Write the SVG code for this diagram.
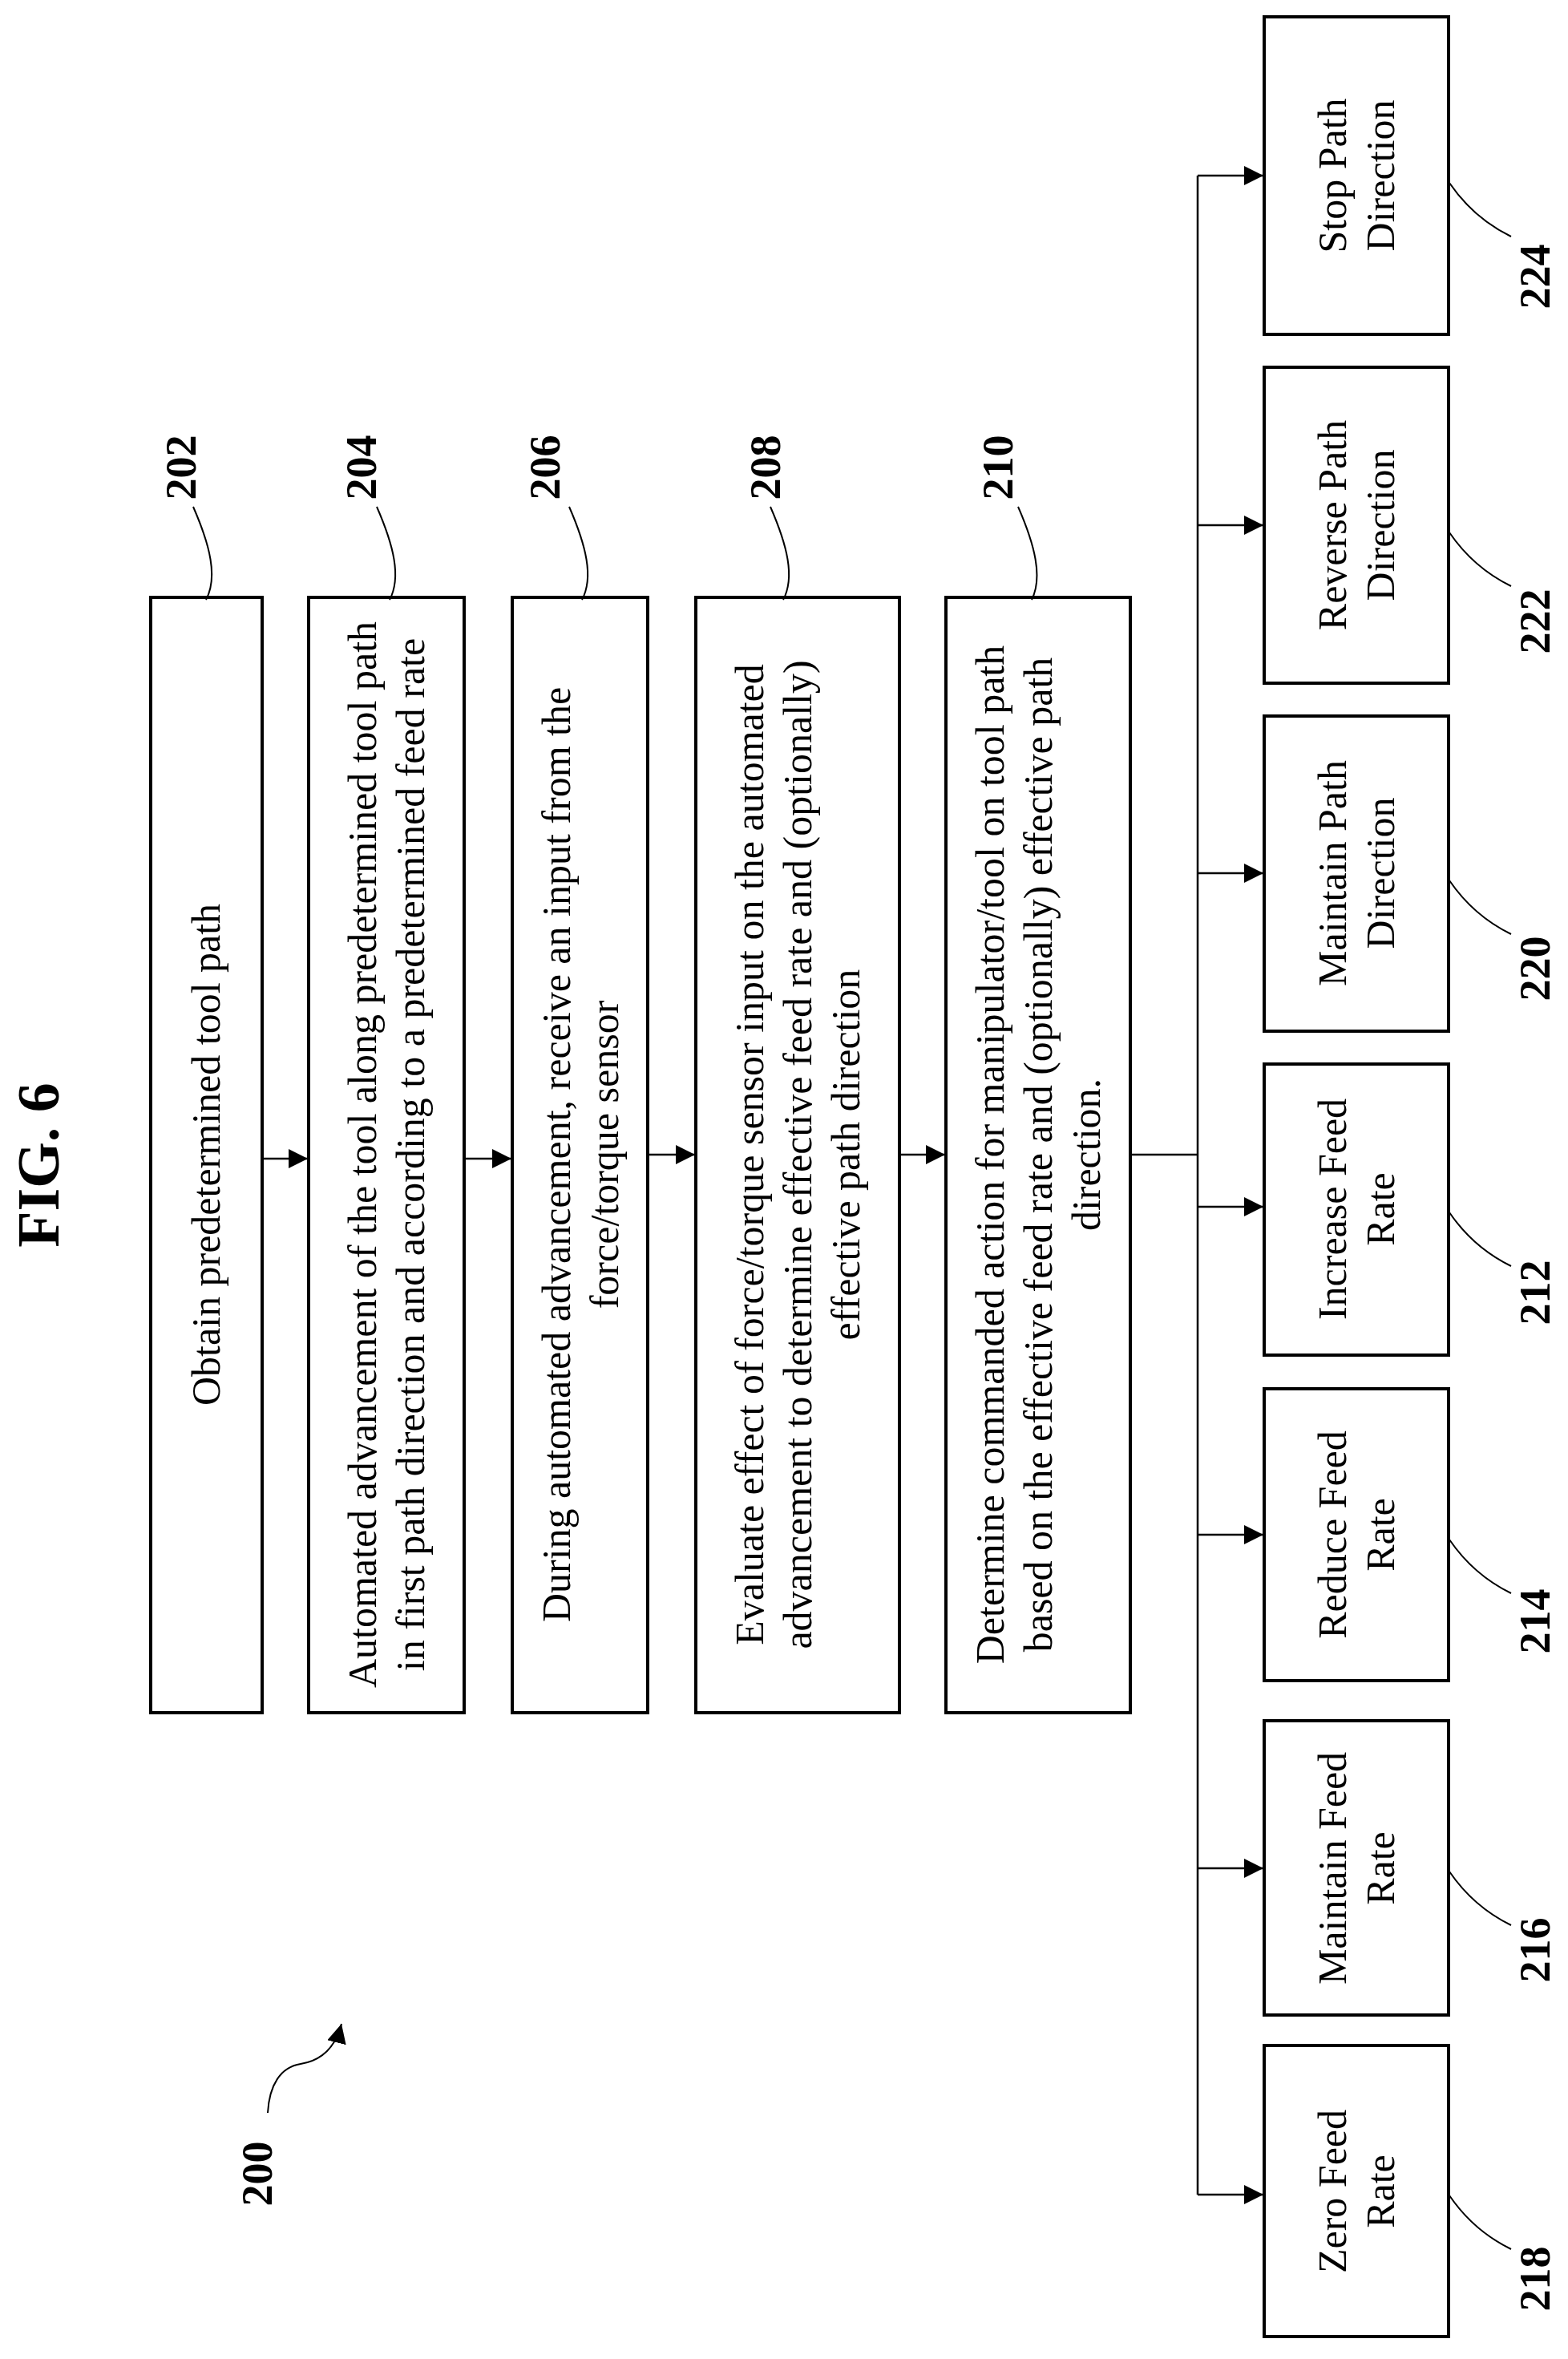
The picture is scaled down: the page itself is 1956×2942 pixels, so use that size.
<svg xmlns="http://www.w3.org/2000/svg" width="1956" height="2942" viewBox="0 0 1956 2942">
<style>
.box{fill:#fff;stroke:#000;stroke-width:4}
.t{font-family:"Liberation Serif","Times New Roman",serif;font-size:50px;text-anchor:middle;dominant-baseline:central;fill:#000}
.n{font-family:"Liberation Serif","Times New Roman",serif;font-size:54px;font-weight:bold;text-anchor:middle;dominant-baseline:central;fill:#000}
.c{fill:none;stroke:#000;stroke-width:2.5}
.l{fill:none;stroke:#000;stroke-width:2}
</style>
<defs>
<marker id="ah" markerUnits="userSpaceOnUse" markerWidth="24" markerHeight="24" refX="24" refY="12" orient="auto">
<path d="M0,0 L24,12 L0,24 Z" fill="#000"/>
</marker>
</defs>
<rect width="1956" height="2942" fill="#fff"/>
<text transform="translate(48,1453) rotate(-90)" style="font-family:'Liberation Serif',serif;font-size:74px;font-weight:bold;text-anchor:middle;dominant-baseline:central">FIG. 6</text>

<g id="n202"><rect class="box" x="188" y="745" width="139" height="1391"/>
<text class="t" transform="translate(257,1440) rotate(-90)">Obtain predetermined tool path</text>
<text class="n" transform="translate(226,583) rotate(-90)">202</text>
<path class="l" d="M241,632 C262,680 272,720 257,748"/></g>

<g id="n204"><rect class="box" x="385" y="745" width="194" height="1391"/>
<text class="t" transform="translate(482,1440) rotate(-90)"><tspan x="0" y="-30">Automated advancement of the tool along predetermined tool path</tspan><tspan x="0" y="30">in first path direction and according to a predetermined feed rate</tspan></text>
<text class="n" transform="translate(451,583) rotate(-90)">204</text>
<path class="l" d="M470,632 C491,680 501,720 486,748"/></g>

<g id="n206"><rect class="box" x="639" y="745" width="169" height="1391"/>
<text class="t" transform="translate(724,1440) rotate(-90)"><tspan x="0" y="-30">During automated advancement, receive an input from the</tspan><tspan x="0" y="30">force/torque sensor</tspan></text>
<text class="n" transform="translate(680,583) rotate(-90)">206</text>
<path class="l" d="M710,632 C731,680 741,720 726,748"/></g>

<g id="n208"><rect class="box" x="868" y="745" width="254" height="1391"/>
<text class="t" transform="translate(995,1440) rotate(-90)"><tspan x="0" y="-60">Evaluate effect of force/torque sensor input on the automated</tspan><tspan x="0" y="0">advancement to determine effective feed rate and (optionally)</tspan><tspan x="0" y="60">effective path direction</tspan></text>
<text class="n" transform="translate(955,583) rotate(-90)">208</text>
<path class="l" d="M961,632 C982,680 992,720 977,748"/></g>

<g id="n210"><rect class="box" x="1180" y="745" width="230" height="1391"/>
<text class="t" transform="translate(1295,1440) rotate(-90)"><tspan x="0" y="-60">Determine commanded action for manipulator/tool on tool path</tspan><tspan x="0" y="0">based on the effective feed rate and (optionally) effective path</tspan><tspan x="0" y="60">direction.</tspan></text>
<text class="n" transform="translate(1245,583) rotate(-90)">210</text>
<path class="l" d="M1270,632 C1291,680 1301,720 1287,748"/></g>

<g id="n224"><rect class="box" x="1577" y="21" width="230" height="396"/>
<text class="t" transform="translate(1692,219) rotate(-90)"><tspan x="0" y="-30">Stop Path</tspan><tspan x="0" y="30">Direction</tspan></text>
<path class="l" d="M1808,228 Q1838,272 1885,295"/>
<text class="n" transform="translate(1915,345) rotate(-90)">224</text></g>

<g id="n222"><rect class="box" x="1577" y="458" width="230" height="394"/>
<text class="t" transform="translate(1692,655) rotate(-90)"><tspan x="0" y="-30">Reverse Path</tspan><tspan x="0" y="30">Direction</tspan></text>
<path class="l" d="M1808,664 Q1838,708 1885,731"/>
<text class="n" transform="translate(1915,775) rotate(-90)">222</text></g>

<g id="n220"><rect class="box" x="1577" y="893" width="230" height="393"/>
<text class="t" transform="translate(1692,1089) rotate(-90)"><tspan x="0" y="-30">Maintain Path</tspan><tspan x="0" y="30">Direction</tspan></text>
<path class="l" d="M1808,1098 Q1838,1142 1885,1165"/>
<text class="n" transform="translate(1915,1208) rotate(-90)">220</text></g>

<g id="n212"><rect class="box" x="1577" y="1327" width="230" height="363"/>
<text class="t" transform="translate(1692,1508) rotate(-90)"><tspan x="0" y="-30">Increase Feed</tspan><tspan x="0" y="30">Rate</tspan></text>
<path class="l" d="M1808,1512 Q1838,1556 1885,1579"/>
<text class="n" transform="translate(1915,1612) rotate(-90)">212</text></g>

<g id="n214"><rect class="box" x="1577" y="1732" width="230" height="364"/>
<text class="t" transform="translate(1692,1914) rotate(-90)"><tspan x="0" y="-30">Reduce Feed</tspan><tspan x="0" y="30">Rate</tspan></text>
<path class="l" d="M1808,1920 Q1838,1964 1885,1987"/>
<text class="n" transform="translate(1915,2022) rotate(-90)">214</text></g>

<g id="n216"><rect class="box" x="1577" y="2146" width="230" height="367"/>
<text class="t" transform="translate(1692,2330) rotate(-90)"><tspan x="0" y="-30">Maintain Feed</tspan><tspan x="0" y="30">Rate</tspan></text>
<path class="l" d="M1808,2334 Q1838,2378 1885,2401"/>
<text class="n" transform="translate(1915,2432) rotate(-90)">216</text></g>

<g id="n218"><rect class="box" x="1577" y="2551" width="230" height="363"/>
<text class="t" transform="translate(1692,2733) rotate(-90)"><tspan x="0" y="-30">Zero Feed</tspan><tspan x="0" y="30">Rate</tspan></text>
<path class="l" d="M1808,2738 Q1838,2782 1885,2805"/>
<text class="n" transform="translate(1915,2842) rotate(-90)">218</text></g>

<g id="n200">
<text class="n" transform="translate(321,2711) rotate(-90)">200</text>
<path class="l" d="M334,2635 C336,2600 350,2578 375,2574 C400,2570 418,2555 426,2524" marker-end="url(#ah)"/>
</g>

<g id="connectors">
<path class="c" d="M327,1445 H384" marker-end="url(#ah)"/>
<path class="c" d="M579,1445 H638" marker-end="url(#ah)"/>
<path class="c" d="M808,1440 H867" marker-end="url(#ah)"/>
<path class="c" d="M1122,1440 H1179" marker-end="url(#ah)"/>
<path class="c" d="M1410,1440 H1494"/>
<path class="c" d="M1494,219 V2737"/>
<path class="c" d="M1494,219 H1576" marker-end="url(#ah)"/>
<path class="c" d="M1494,655 H1576" marker-end="url(#ah)"/>
<path class="c" d="M1494,1089 H1576" marker-end="url(#ah)"/>
<path class="c" d="M1494,1505 H1576" marker-end="url(#ah)"/>
<path class="c" d="M1494,1914 H1576" marker-end="url(#ah)"/>
<path class="c" d="M1494,2330 H1576" marker-end="url(#ah)"/>
<path class="c" d="M1494,2737 H1576" marker-end="url(#ah)"/>
</g>
</svg>
